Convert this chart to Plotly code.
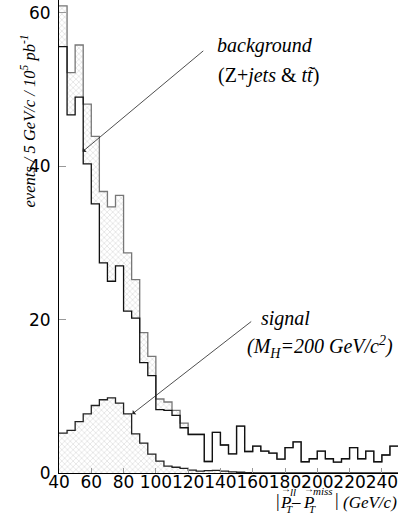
import plotly.graph_objects as go

# ---- data (5 GeV/c bins, left edges 40..245) ----
bin_width = 5
bin_left = [40, 45, 50, 55, 60, 65, 70, 75, 80, 85, 90, 95, 100, 105, 110, 115, 120, 125,
            130, 135, 140, 145, 150, 155, 160, 165, 170, 175, 180, 185, 190, 195, 200,
            205, 210, 215, 220, 225, 230, 235, 240, 245]

bkg_upper = [60.9, 52.2, 55.8, 48.1, 43.9, 36.7, 34.7, 36.2, 28.7, 25.2, 18.3, 15.2, 9.65,
             9.26, 8.16, 6.5, 5.1, 5.1,
             1.5, 5.3, 3.65, 2.5, 6.1, 2.8, 3.5, 2.85, 2.6, 1.8, 3.3, 4.05, 1.47, 1.86, 2.86,
             1.86, 1.43, 1.86, 3.3, 1.86, 2.86, 1.47, 2.35, 3.5]
bkg_lower = [55.6, 46.7, 49.0, 40.3, 35.1, 27.4, 25.0, 27.0, 21.1, 20.2, 14.4, 12.7, 8.25,
             8.16, 7.51, 5.9, 5.0, 5.0,
             1.5, 5.3, 3.65, 2.5, 6.1, 2.8, 3.5, 2.85, 2.6, 1.8, 3.3, 4.05, 1.47, 1.86, 2.86,
             1.86, 1.43, 1.86, 3.3, 1.86, 2.86, 1.47, 2.35, 3.5]
signal = [5.2, 5.55, 6.7, 7.7, 8.8, 9.55, 9.8, 9.1, 7.7, 5.1, 3.9, 2.45, 1.55, 0.9, 0.75,
          0.6, 0.38, 0.25, 0.3, 0.35, 0.25, 0.15, 0.1, 0.05, 0.02, 0.0, 0.0, 0.0, 0.0, 0.0,
          0.0, 0.0, 0.0, 0.0, 0.0, 0.0, 0.0, 0.0, 0.0, 0.0, 0.0, 0.0]

x_ticks = [40, 60, 80, 100, 120, 140, 160, 180, 200, 220, 240]
y_ticks = [0, 20, 40, 60]

# layout geometry (pixels)
W, H = 410, 519
ML, MR, MT, MB = 59, 12, 0, 46
PW, PH = W - ML - MR, H - MT - MB


def px(xp):
    return (xp - ML) / PW


def py(yp):
    return (H - MB - yp) / PH


def step(vals):
    xs = list(bin_left) + [bin_left[-1] + bin_width]
    ys = list(vals) + [vals[-1]]
    return xs, ys


SERIF = "Liberation Serif"
hatch = dict(shape="x", size=4, solidity=0.2, fgcolor="#8f8f8f", bgcolor="white")

fig = go.Figure()

sx, sy = step(signal)
fig.add_trace(go.Scatter(x=sx, y=sy, mode="lines", line=dict(shape="hv", color="#222", width=1.3),
                         fill="tozeroy", fillpattern=hatch, fillcolor="white", hoverinfo="skip"))

ux, uy = step(bkg_upper)
lx, ly = step(bkg_lower)
fig.add_trace(go.Scatter(x=ux, y=uy, mode="lines", line=dict(shape="hv", color="#777", width=1.3),
                         hoverinfo="skip"))
fig.add_trace(go.Scatter(x=lx, y=ly, mode="lines", line=dict(shape="hv", color="#111", width=1.3),
                         fill="tonexty", fillpattern=hatch, fillcolor="white", hoverinfo="skip"))

ann = []
# arrows
ann.append(dict(x=54.6, y=41.9, ax=130.3, ay=55.2, xref="x", yref="y", axref="x", ayref="y",
                text="", showarrow=True, arrowhead=1, arrowsize=1.2, arrowwidth=0.8, arrowcolor="#222"))
ann.append(dict(x=85.4, y=7.7, ax=160.0, ay=19.9, xref="x", yref="y", axref="x", ayref="y",
                text="", showarrow=True, arrowhead=1, arrowsize=1.2, arrowwidth=0.8, arrowcolor="#222"))
# labels
ann.append(dict(x=167.3, y=55.7, xref="x", yref="y", text="<i>background</i>", showarrow=False,
                font=dict(family=SERIF, size=20, color="black")))
ann.append(dict(x=169.5, y=51.8, xref="x", yref="y", text="(Z+<i>jets</i> & <i>tt\u0303</i>)",
                showarrow=False, font=dict(family=SERIF, size=20, color="black")))
ann.append(dict(x=180.0, y=20.1, xref="x", yref="y", text="<i>signal</i>", showarrow=False,
                font=dict(family=SERIF, size=20, color="black")))
ann.append(dict(x=201.4, y=16.4, xref="x", yref="y",
                text="<i>(M<sub>H</sub>=200 GeV/c<sup>2</sup>)</i>", showarrow=False,
                font=dict(family=SERIF, size=20, color="black")))
# y title
ann.append(dict(x=px(29), y=py(121.5), xref="paper", yref="paper", xanchor="center", yanchor="middle",
                text="<i>events / 5 GeV/c / 10<sup>5</sup> pb<sup>-1</sup></i>", textangle=-90,
                showarrow=False, font=dict(family=SERIF, size=16.5, color="black")))


# x title, built from pieces so that sub/superscripts stack
def piece(text, xl, yc, size, anchor="left"):
    ann.append(dict(x=px(xl), y=py(yc), xref="paper", yref="paper", xanchor=anchor, yanchor="middle",
                    text=text, showarrow=False, borderpad=0,
                    font=dict(family=SERIF, size=size, color="black")))


piece("|", 277.5, 501, 18, "center")
piece("<i>P</i>", 279, 502, 17)
piece("\u2192", 286, 489, 10, "center")
piece("<i>ll</i>", 289, 492, 11)
piece("<i>T</i>", 285, 509, 11)
piece("\u2013", 296, 501, 17, "center")
piece("<i>P</i>", 302, 502, 17)
piece("\u2192", 309, 489, 10, "center")
piece("<i>miss</i>", 312, 491, 11)
piece("<i>T</i>", 308, 509, 11)
piece("|", 337, 500, 18, "center")
piece("<i>(GeV/c)</i>", 342, 502, 17)

fig.update_layout(
    width=W, height=H,
    margin=dict(l=ML, r=MR, t=MT, b=MB),
    paper_bgcolor="white", plot_bgcolor="white",
    showlegend=False,
    annotations=ann,
    xaxis=dict(range=[40, 250], tickvals=x_ticks, ticks="inside", ticklen=5, tickcolor="#999",
               tickangle=0, showgrid=False, zeroline=False, showline=True, linecolor="black",
               linewidth=1, tickfont=dict(family="DejaVu Sans", size=17, color="black"),
               ticklabelstandoff=-6),
    yaxis=dict(range=[0, 61.67], tickvals=y_ticks, ticks="inside", ticklen=7, tickcolor="#999",
               showgrid=False, zeroline=False, showline=True, linecolor="black", linewidth=1,
               tickfont=dict(family="DejaVu Sans", size=17, color="black"), ticklabelstandoff=4),
)

fig.write_html("out.html")
